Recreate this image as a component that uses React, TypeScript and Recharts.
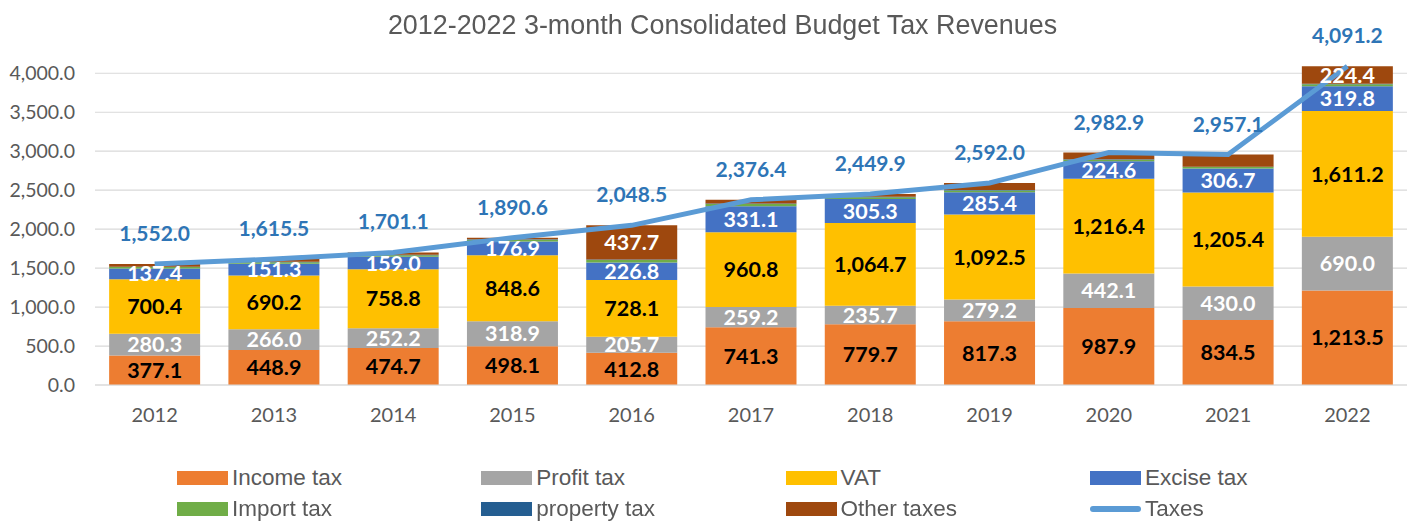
import React from 'react';
import { ComposedChart, Bar, Line, XAxis, YAxis, CartesianGrid, LabelList, Legend } from 'recharts';

const years = ['2012', '2013', '2014', '2015', '2016', '2017', '2018', '2019', '2020', '2021', '2022'];
const incomeTax = [377.1, 448.9, 474.7, 498.1, 412.8, 741.3, 779.7, 817.3, 987.9, 834.5, 1213.5];
const profitTax = [280.3, 266.0, 252.2, 318.9, 205.7, 259.2, 235.7, 279.2, 442.1, 430.0, 690.0];
const vat = [700.4, 690.2, 758.8, 848.6, 728.1, 960.8, 1064.7, 1092.5, 1216.4, 1205.4, 1611.2];
const exciseTax = [137.4, 151.3, 159.0, 176.9, 226.8, 331.1, 305.3, 285.4, 224.6, 306.7, 319.8];
const importTax = [18, 20, 20, 22, 30, 30, 25, 22, 20, 20, 25];
const propertyTax = [5, 5, 5, 5, 7.4, 5, 5, 5, 5, 5, 7.3];
const otherTaxes = [33.8, 34.1, 31.4, 21.1, 437.7, 49.0, 34.5, 90.6, 86.9, 155.5, 224.4];
const taxes = [1552.0, 1615.5, 1701.1, 1890.6, 2048.5, 2376.4, 2449.9, 2592.0, 2982.9, 2957.1, 4091.2];
const yTicks = [0, 500, 1000, 1500, 2000, 2500, 3000, 3500, 4000];
const yMax = 4500;

const data = years.map((year, i) => ({
  year,
  income: incomeTax[i],
  profit: profitTax[i],
  vat: vat[i],
  excise: exciseTax[i],
  imp: importTax[i],
  property: propertyTax[i],
  other: otherTaxes[i],
  total: taxes[i],
}));

const fmt = (v: number) =>
  Number(v).toLocaleString('en-US', { minimumFractionDigits: 1, maximumFractionDigits: 1 });

const LABEL_FONT = 'Lato, "Open Sans", sans-serif';

const legendItems = [
  { name: 'Income tax', color: '#ED7D31', type: 'rect' },
  { name: 'Profit tax', color: '#A5A5A5', type: 'rect' },
  { name: 'VAT', color: '#FFC000', type: 'rect' },
  { name: 'Excise tax', color: '#4472C4', type: 'rect' },
  { name: 'Import tax', color: '#70AD47', type: 'rect' },
  { name: 'property tax', color: '#255E91', type: 'rect' },
  { name: 'Other taxes', color: '#9E480E', type: 'rect' },
  { name: 'Taxes', color: '#5B9BD5', type: 'line' },
];

const LegendContent = () => (
  <div style={{ position: 'relative', width: 1407, height: 62 }}>
    {legendItems.map((it, i) => {
      const col = i % 4;
      const row = Math.floor(i / 4);
      return (
        <div
          key={it.name}
          style={{
            position: 'absolute',
            left: 177 + col * 304.3,
            top: row * 31,
            height: 30,
            display: 'flex',
            alignItems: 'center',
            whiteSpace: 'nowrap',
          }}
        >
          {it.type === 'rect' ? (
            <div style={{ width: 51, height: 14, background: it.color }} />
          ) : (
            <div style={{ width: 51, height: 14, display: 'flex', alignItems: 'center' }}>
              <div style={{ width: 51, height: 6, borderRadius: 3, background: it.color }} />
            </div>
          )}
          <span
            style={{
              marginLeft: 4,
              fontFamily: '"Liberation Sans", Arial, sans-serif',
              fontSize: 22.5,
              color: '#595959',
            }}
          >
            {it.name}
          </span>
        </div>
      );
    })}
  </div>
);

const gridCoords = (props: any) => {
  const off = props && props.offset;
  if (!off || typeof off.top !== 'number' || typeof off.height !== 'number') return [];
  return yTicks.map((t) => off.top + off.height * (1 - t / yMax));
};

export default function App() {
  return (
    <div
      style={{
        position: 'fixed',
        top: 0,
        left: 0,
        width: 1407,
        height: 522,
        background: '#fff',
        overflow: 'visible',
      }}
    >
      <div
        style={{
          position: 'absolute',
          top: 10,
          left: 19,
          width: 1407,
          textAlign: 'center',
          fontFamily: '"Liberation Sans", Arial, sans-serif',
          fontSize: 26.9,
          color: '#595959',
          zIndex: 2,
          whiteSpace: 'nowrap',
        }}
      >
        2012-2022 3-month Consolidated Budget Tax Revenues
      </div>
      <ComposedChart
        width={1407}
        height={522}
        data={data}
        margin={{ top: 34.3, right: 0, bottom: 0, left: 0 }}
        barCategoryGap="11.85%"
      >
        <CartesianGrid
          vertical={false}
          horizontalCoordinatesGenerator={gridCoords}
          stroke="#D9D9D9"
          strokeWidth={1.2}
        />
        <XAxis
          dataKey="year"
          height={137}
          tickLine={false}
          axisLine={{ stroke: '#D9D9D9', strokeWidth: 1.2 }}
          tickMargin={17}
          tick={{ fill: '#595959', fontSize: 20, fontFamily: LABEL_FONT }}
        />
        <YAxis
          width={95}
          domain={[0, yMax]}
          ticks={yTicks}
          interval={0}
          tickLine={false}
          axisLine={false}
          tickMargin={14}
          tickFormatter={fmt}
          tick={{ fill: '#595959', fontSize: 19.5, fontFamily: LABEL_FONT }}
        />
        <Legend
          verticalAlign="middle"
          layout="horizontal"
          wrapperStyle={{ top: 463, left: 0, width: 1407 }}
          content={() => <LegendContent />}
        />
        <Bar dataKey="income" name="Income tax" stackId="a" fill="#ED7D31" isAnimationActive={false}>
          <LabelList dataKey="income" position="center" formatter={fmt} fill="#000" fontSize={21.5} fontWeight="bold" fontFamily={LABEL_FONT} />
        </Bar>
        <Bar dataKey="profit" name="Profit tax" stackId="a" fill="#A5A5A5" isAnimationActive={false}>
          <LabelList dataKey="profit" position="center" formatter={fmt} fill="#fff" fontSize={21.5} fontWeight="bold" fontFamily={LABEL_FONT} />
        </Bar>
        <Bar dataKey="vat" name="VAT" stackId="a" fill="#FFC000" isAnimationActive={false}>
          <LabelList dataKey="vat" position="center" formatter={fmt} fill="#000" fontSize={21.5} fontWeight="bold" fontFamily={LABEL_FONT} />
        </Bar>
        <Bar dataKey="excise" name="Excise tax" stackId="a" fill="#4472C4" isAnimationActive={false}>
          <LabelList dataKey="excise" position="center" formatter={fmt} fill="#fff" fontSize={21.5} fontWeight="bold" fontFamily={LABEL_FONT} />
        </Bar>
        <Bar dataKey="imp" name="Import tax" stackId="a" fill="#70AD47" isAnimationActive={false} />
        <Bar dataKey="property" name="property tax" stackId="a" fill="#255E91" isAnimationActive={false} />
        <Bar dataKey="other" name="Other taxes" stackId="a" fill="#9E480E" isAnimationActive={false}>
          <LabelList
            dataKey="other"
            position="center"
            formatter={(v: number) => (v > 200 ? fmt(v) : '')}
            fill="#fff"
            fontSize={21.5}
            fontWeight="bold"
            fontFamily={LABEL_FONT}
          />
        </Bar>
        <Line
          dataKey="total"
          name="Taxes"
          type="linear"
          stroke="#5B9BD5"
          strokeWidth={5}
          dot={false}
          activeDot={false}
          isAnimationActive={false}
        >
          <LabelList dataKey="total" position="top" offset={23} formatter={fmt} fill="#2E75B6" fontSize={21} fontWeight="bold" fontFamily={LABEL_FONT} />
        </Line>
      </ComposedChart>
    </div>
  );
}
